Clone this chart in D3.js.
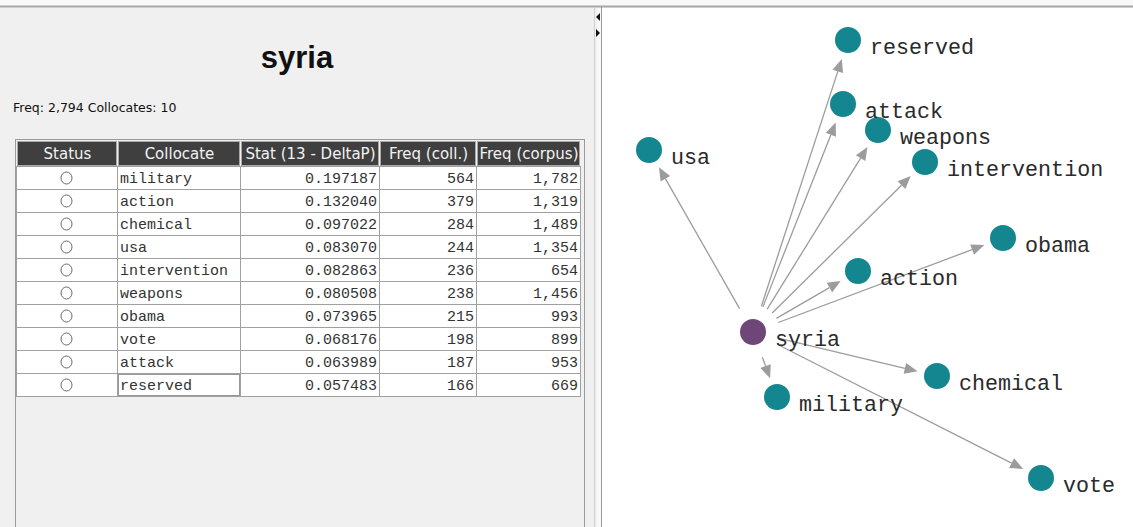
<!DOCTYPE html>
<html>
<head>
<meta charset="utf-8">
<script src="https://cdn.jsdelivr.net/npm/d3@7"></script>
<style>
  body { margin: 0; background: #fff; }
  svg { display: block; }
</style>
</head>
<body>
<div id="chart"></div>
<script>
// Collocation table + network view for "syria"

const nodeWord = "syria";
const nodeFreq = 2794;
const collocates = ["military", "action", "chemical", "usa", "intervention", "weapons", "obama", "vote", "attack", "reserved"];
const statValues = [0.197187, 0.132040, 0.097022, 0.083070, 0.082863, 0.080508, 0.073965, 0.068176, 0.063989, 0.057483];
const freqColl = [564, 379, 284, 244, 236, 238, 215, 198, 187, 166];
const freqCorpus = [1782, 1319, 1489, 1354, 654, 1456, 993, 899, 953, 669];
const headers = ["Status", "Collocate", "Stat (13 - DeltaP)", "Freq (coll.)", "Freq (corpus)"];

// network layout (panel coordinates)
const graphNames = ["syria", "military", "action", "chemical", "usa", "intervention", "weapons", "obama", "vote", "attack", "reserved"];
const graphX = [150, 174, 255, 334, 46, 322, 275, 400, 438, 240, 245];
const graphY = [332, 397, 271, 376, 150, 162, 130, 238, 478, 104, 40];

const width = 1133, height = 527;

const svg = d3.select("#chart")
              .append("svg")
              .attr("width", width)
              .attr("height", height);

// ---- window background ----
svg.append("rect").attr("width", width).attr("height", height).attr("fill", "#f9f9f9");
svg.append("rect").attr("x", 0).attr("y", 8).attr("width", 597).attr("height", height - 8).attr("fill", "#f0f0f0");
svg.append("rect").attr("x", 602).attr("y", 8).attr("width", width - 602).attr("height", height - 8).attr("fill", "#fff");
svg.append("line").attr("x1", 0).attr("x2", width).attr("y1", 6.5).attr("y2", 6.5)
   .attr("stroke", "#a6a6a6").attr("stroke-width", 2);
svg.append("line").attr("x1", 601.5).attr("x2", 601.5).attr("y1", 7).attr("y2", height)
   .attr("stroke", "#999");
svg.append("line").attr("x1", 594.5).attr("x2", 594.5).attr("y1", 8).attr("y2", height)
   .attr("stroke", "#d0d0d0");
// little splitter arrows
svg.append("path").attr("d", "M596,17 L600,13 L600,21 Z").attr("fill", "#111");
svg.append("path").attr("d", "M600,33 L596,29 L596,37 Z").attr("fill", "#111");

// ---- left panel: title + table ----
const left = svg.append("g");

left.append("text")
    .attr("x", 297).attr("y", 68)
    .attr("text-anchor", "middle")
    .style("font-family", "Liberation Sans, Arial, sans-serif")
    .style("font-weight", "bold")
    .style("font-size", "31px")
    .attr("fill", "#111")
    .text(nodeWord);

left.append("text")
    .attr("x", 13).attr("y", 112)
    .style("font-family", "DejaVu Sans, sans-serif")
    .style("font-size", "12.5px")
    .attr("fill", "#111")
    .text("Freq: " + d3.format(",")(nodeFreq) + " Collocates: " + collocates.length);

// scroll pane frame
left.append("rect")
    .attr("x", 15.5).attr("y", 139.5)
    .attr("width", 569).attr("height", 400)
    .attr("fill", "#f0f0f0")
    .attr("stroke", "#9a9a9a");

const colEdges = [16, 117, 240, 379, 476, 580];
const headerTop = 141, headerBottom = 166;

const rowScale = d3.scaleBand()
                   .domain(collocates)
                   .range([headerBottom, headerBottom + 23 * collocates.length])
                   .padding(0);

// header cells
headers.forEach(function (h, i) {
    left.append("rect")
        .attr("x", colEdges[i] + 1.5).attr("y", headerTop + 0.5)
        .attr("width", colEdges[i + 1] - colEdges[i] - 2)
        .attr("height", headerBottom - headerTop - 1)
        .attr("fill", "#3f3f3f")
        .attr("stroke", "#a8a8a8");
    left.append("text")
        .attr("x", (colEdges[i] + colEdges[i + 1]) / 2 + 1)
        .attr("y", 159)
        .attr("text-anchor", "middle")
        .style("font-family", "DejaVu Sans, sans-serif")
        .style("font-size", "15px")
        .attr("fill", "#f2f2f2")
        .text(h);
});

// body rows
const rows = left.selectAll(".row")
                 .data(collocates.map(function (c, i) {
                     return {word: c, stat: statValues[i], coll: freqColl[i], corpus: freqCorpus[i]};
                 }))
                 .enter()
                 .append("g")
                 .attr("class", "row")
                 .attr("transform", function (d) {
                     return "translate(0," + rowScale(d.word) + ")";
                 });

rows.append("rect")
    .attr("x", colEdges[0] + 0.5).attr("y", 0.5)
    .attr("width", colEdges[5] - colEdges[0])
    .attr("height", rowScale.bandwidth())
    .attr("fill", "#fff")
    .attr("stroke", "#a0a0a0");

for (let i = 1; i < colEdges.length - 1; i++) {
    rows.append("line")
        .attr("x1", colEdges[i] + 0.5).attr("x2", colEdges[i] + 0.5)
        .attr("y1", 0).attr("y2", rowScale.bandwidth())
        .attr("stroke", "#a0a0a0");
}

rows.append("ellipse")
    .attr("cx", 66.5).attr("cy", 12)
    .attr("rx", 5.5).attr("ry", 6)
    .attr("fill", "none")
    .attr("stroke", "#6a6a6a")
    .attr("stroke-width", 1);

const mono = "Liberation Mono, Courier New, monospace";
const cellY = 17;

rows.append("text")
    .attr("x", colEdges[1] + 3).attr("y", cellY)
    .style("font-family", mono).style("font-size", "15px")
    .attr("fill", "#333")
    .text(function (d) { return d.word; });

rows.append("text")
    .attr("x", colEdges[3] - 2).attr("y", cellY)
    .attr("text-anchor", "end")
    .style("font-family", mono).style("font-size", "15px")
    .attr("fill", "#333")
    .text(function (d) { return d3.format(".6f")(d.stat); });

rows.append("text")
    .attr("x", colEdges[4] - 2).attr("y", cellY)
    .attr("text-anchor", "end")
    .style("font-family", mono).style("font-size", "15px")
    .attr("fill", "#333")
    .text(function (d) { return d3.format(",")(d.coll); });

rows.append("text")
    .attr("x", colEdges[5] - 2).attr("y", cellY)
    .attr("text-anchor", "end")
    .style("font-family", mono).style("font-size", "15px")
    .attr("fill", "#333")
    .text(function (d) { return d3.format(",")(d.corpus); });

// focus box around the last collocate cell
const lastWord = collocates[collocates.length - 1];
left.append("rect")
    .attr("x", colEdges[1] + 1.5).attr("y", rowScale(lastWord) + 1.5)
    .attr("width", colEdges[2] - colEdges[1] - 2)
    .attr("height", rowScale.bandwidth() - 2)
    .attr("fill", "none")
    .attr("stroke", "#333")
    .attr("stroke-dasharray", "1,1");

// ---- right panel: network ----
const xScale = d3.scaleLinear().domain([0, 530]).range([603, 1133]);
const yScale = d3.scaleLinear().domain([0, 527]).range([0, 527]);

const nodes = graphNames.map(function (n, i) {
    return {name: n, x: xScale(graphX[i]), y: yScale(graphY[i])};
});
const source = nodes[0];
const links = nodes.slice(1).map(function (t) { return {s: source, t: t}; });

const graph = svg.append("g");
const edgeColor = "#9c9c9c";

links.forEach(function (l) {
    const dx = l.t.x - l.s.x, dy = l.t.y - l.s.y;
    const len = Math.sqrt(dx * dx + dy * dy);
    const ux = dx / len, uy = dy / len;
    const x1 = l.s.x + ux * 27, y1 = l.s.y + uy * 27;
    const tipX = l.t.x - ux * 20, tipY = l.t.y - uy * 20;
    const baseX = tipX - ux * 13, baseY = tipY - uy * 13;
    graph.append("line")
         .attr("x1", x1).attr("y1", y1)
         .attr("x2", baseX).attr("y2", baseY)
         .attr("stroke", edgeColor)
         .attr("stroke-width", 1.3);
    graph.append("path")
         .attr("d", "M" + tipX + "," + tipY +
                    "L" + (baseX - uy * 5.5) + "," + (baseY + ux * 5.5) +
                    "L" + (baseX + uy * 5.5) + "," + (baseY - ux * 5.5) + "Z")
         .attr("fill", edgeColor);
});

graph.selectAll(".node")
     .data(nodes)
     .enter()
     .append("circle")
     .attr("class", "node")
     .attr("cx", function (d) { return d.x; })
     .attr("cy", function (d) { return d.y; })
     .attr("r", 13)
     .attr("fill", function (d) { return d.name === nodeWord ? "#6e4778" : "#138690"; });

graph.selectAll(".label")
     .data(nodes)
     .enter()
     .append("text")
     .attr("class", "label")
     .attr("x", function (d) { return d.x + 22; })
     .attr("y", function (d) { return d.y + 14; })
     .style("font-family", mono)
     .style("font-size", "21.7px")
     .attr("fill", "#2a2a2a")
     .text(function (d) { return d.name; });
</script>
</body>
</html>
